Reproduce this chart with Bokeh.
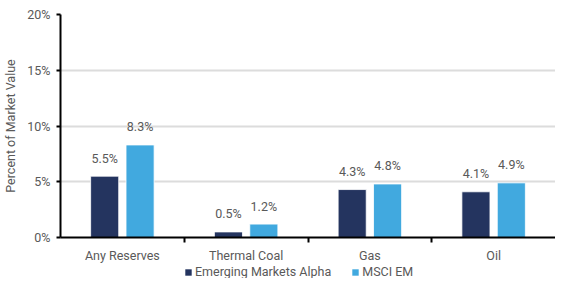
from bokeh.plotting import figure
from bokeh.layouts import column
from bokeh.models import (ColumnDataSource, Range1d, FixedTicker, PrintfTickFormatter,
                          Legend, LegendItem)
from bokeh.transform import dodge
from bokeh.embed import file_html
from bokeh.resources import INLINE
from bokeh.core.properties import value

categories = ["Any Reserves", "Thermal Coal", "Gas", "Oil"]
em_alpha = [5.5, 0.5, 4.3, 4.1]
msci_em = [8.3, 1.2, 4.8, 4.9]
series_names = ["Emerging Markets Alpha", "MSCI EM"]
y_ticks = [0, 5, 10, 15, 20]

FONT = "Roboto"
FS = "12.5px"
GREY = "#595959"
DARK = "#24345F"
LIGHT = "#41A9DF"
OFF = 0.143
BW = 0.227
W = 555

centers = [i + 0.5 for i in range(len(categories))]
src = ColumnDataSource(dict(
    x=centers, a=em_alpha, m=msci_em,
    a_lbl=[f"{v:.1f}%" for v in em_alpha],
    m_lbl=[f"{v:.1f}%" for v in msci_em],
))

p = figure(width=W, height=265, x_range=Range1d(0, len(categories)),
           y_range=Range1d(y_ticks[0], y_ticks[-1]),
           output_backend="svg", toolbar_location=None,
           min_border_left=53, min_border_right=0, min_border_top=14,
           min_border_bottom=28)
p.outline_line_color = None
p.background_fill_color = "white"
p.border_fill_color = "white"

r1 = p.vbar(x=dodge("x", -OFF), top="a", width=BW, source=src,
            fill_color=DARK, line_color="white", line_width=0.8)
r2 = p.vbar(x=dodge("x", OFF), top="m", width=BW, source=src,
            fill_color=LIGHT, line_color="white", line_width=0.8)

for xo, col in ((-OFF, "a"), (OFF, "m")):
    p.text(x=dodge("x", xo), y=col, text=col + "_lbl", source=src,
           text_align="center", text_baseline="middle", y_offset=-18,
           text_font=value(FONT), text_font_size=FS, text_color=GREY)

# x axis
xa = p.xaxis[0]
xa.ticker = FixedTicker(ticks=centers, minor_ticks=[1, 2, 3])
xa.major_label_overrides = {c: lab for c, lab in zip(centers, categories)}
xa.axis_line_color = "black"
xa.axis_line_width = 2
xa.major_tick_line_color = None
xa.major_tick_out = 4
xa.major_tick_in = 0
xa.minor_tick_out = 5
xa.minor_tick_in = 0
xa.minor_tick_line_color = "black"
xa.minor_tick_line_width = 2
xa.major_label_standoff = 5
xa.major_label_text_font = FONT
xa.major_label_text_font_size = FS
xa.major_label_text_color = GREY

# y axis
ya = p.yaxis[0]
ya.ticker = FixedTicker(ticks=y_ticks)
ya.formatter = PrintfTickFormatter(format="%d%%")
ya.axis_line_color = "black"
ya.axis_line_width = 2
ya.major_tick_out = 4
ya.major_tick_in = 0
ya.major_tick_line_width = 2
ya.major_tick_line_color = "black"
ya.minor_tick_line_color = None
ya.major_label_standoff = 6
ya.major_label_text_font = FONT
ya.major_label_text_font_size = FS
ya.major_label_text_color = GREY
ya.axis_label = "Percent of Market Value"
ya.axis_label_text_font = FONT
ya.axis_label_text_font_size = FS
ya.axis_label_text_font_style = "normal"
ya.axis_label_text_color = GREY
ya.axis_label_standoff = 6

p.xgrid.visible = False
p.ygrid.ticker = FixedTicker(ticks=y_ticks)
p.ygrid.grid_line_color = "#DCDCDC"
p.ygrid.grid_line_width = 2

# legend strip below the chart (its renderers fall outside its own ranges)
lg = figure(width=W, height=13, x_range=Range1d(-10, -9), y_range=Range1d(-10, -9),
            output_backend="svg", toolbar_location=None,
            x_axis_location=None, y_axis_location=None,
            min_border=0, min_border_left=0, min_border_right=0,
            min_border_top=0, min_border_bottom=0)
lg.outline_line_color = None
lg.xgrid.visible = False
lg.ygrid.visible = False
d1 = lg.vbar(x="x", top="a", width=BW, source=src, fill_color=DARK, line_color=None)
d2 = lg.vbar(x="x", top="m", width=BW, source=src, fill_color=LIGHT, line_color=None)

legend = Legend(items=[LegendItem(label=series_names[0], renderers=[d1]),
                       LegendItem(label=series_names[1], renderers=[d2])],
                orientation="horizontal", location=(124, -1),
                glyph_width=8, glyph_height=8, label_standoff=3, spacing=20,
                padding=0, margin=0, border_line_color=None,
                background_fill_alpha=0,
                label_text_font=FONT, label_text_font_size=FS,
                label_text_color=GREY, label_height=12)
lg.add_layout(legend, "center")

open("out.html", "w").write(file_html(column(p, lg, spacing=0), INLINE))
